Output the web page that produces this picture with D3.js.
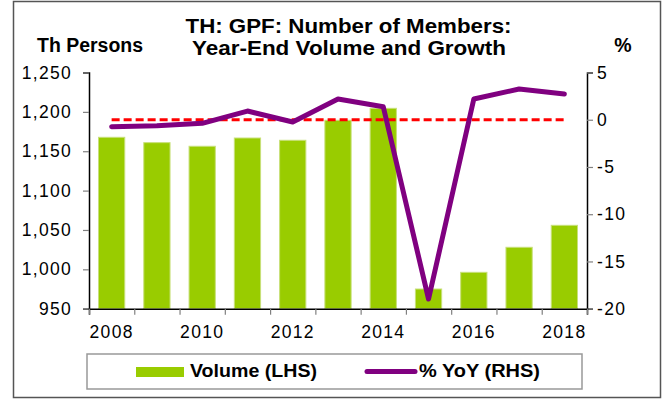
<!DOCTYPE html>
<html>
<head>
<meta charset="utf-8">
<script src="https://cdn.jsdelivr.net/npm/d3@7"></script>
<style>
  body { margin: 0; background: #fff; }
  svg text { font-family: "Liberation Sans", Arial, sans-serif; fill: #000; }
</style>
</head>
<body>
<div id="chart"></div>
<script>
// data
var years = ["2008", "2009", "2010", "2011", "2012", "2013", "2014", "2015", "2016", "2017", "2018"];
var volume = [1167.7, 1160.9, 1156.3, 1166.8, 1163.9, 1189.3, 1204.5, 975.0, 996.2, 1028.0, 1055.9];
var yoy = [-0.74, -0.63, -0.38, 0.92, -0.24, 2.19, 1.38, -18.98, 2.19, 3.25, 2.72];
var leftTicks = [950, 1000, 1050, 1100, 1150, 1200, 1250];
var rightTicks = [-20, -15, -10, -5, 0, 5];
var xLabels = ["2008", "2010", "2012", "2014", "2016", "2018"];

var W = 669, H = 401;
var plotL = 89, plotR = 587, plotT = 72.5, plotB = 308.7;

var svg = d3.select("#chart")
    .append("svg")
    .attr("width", W)
    .attr("height", H);

// outer frame
svg.append("rect")
    .attr("x", 13.5).attr("y", 1.5)
    .attr("width", 647).attr("height", 396)
    .attr("fill", "none")
    .attr("stroke", "#555")
    .attr("stroke-width", 1.5);

// scales
var x = d3.scaleBand()
    .domain(years)
    .range([plotL, plotR])
    .paddingInner(0.42)
    .paddingOuter(0.21);

var xIdx = d3.scaleLinear()
    .domain([0, years.length])
    .range([plotL, plotR]);

var yL = d3.scaleLinear()
    .domain([950, 1250])
    .range([plotB, plotT]);

var yR = d3.scaleLinear()
    .domain([-20, 5])
    .range([plotB, plotT]);

var cx = d => x(d) + x.bandwidth() / 2;

// bars
svg.append("g")
    .attr("class", "bars")
    .selectAll("rect")
    .data(volume)
    .enter()
    .append("rect")
        .attr("x", (d, i) => x(years[i]))
        .attr("y", d => yL(d))
        .attr("width", x.bandwidth())
        .attr("height", d => plotB - yL(d))
        .attr("fill", "#99cc00")
        .attr("stroke", "#c8e07a")
        .attr("stroke-width", 1);

// zero line (dashed red)
svg.append("line")
    .attr("x1", cx(years[0]))
    .attr("x2", cx(years[years.length - 1]))
    .attr("y1", yR(0))
    .attr("y2", yR(0))
    .attr("stroke", "#ff0000")
    .attr("stroke-width", 3)
    .attr("stroke-dasharray", "8,4");

// yoy line
svg.append("path")
    .datum(yoy)
    .attr("fill", "none")
    .attr("stroke", "#800080")
    .attr("stroke-width", 5)
    .attr("stroke-linejoin", "round")
    .attr("stroke-linecap", "round")
    .attr("d", d3.line()
        .x((d, i) => cx(years[i]))
        .y(d => yR(d)));

// AXES
function styleAxis(g) {
    g.select(".domain").attr("stroke", "#000").attr("stroke-width", 1.5);
    g.selectAll(".tick line").attr("stroke", "#808080").attr("stroke-width", 1.2);
    g.selectAll("text")
        .attr("font-size", 17.5)
        .attr("letter-spacing", "1.3px")
        .attr("fill", "#000")
        .attr("font-family", "Liberation Sans, Arial, sans-serif");
}

svg.append("g")
    .attr("transform", "translate(" + plotL + ",0)")
    .call(d3.axisLeft(yL)
        .tickValues(leftTicks)
        .tickSize(6)
        .tickPadding(11)
        .tickFormat(d3.format(",")))
    .call(styleAxis);

svg.append("g")
    .attr("transform", "translate(" + plotR + ",0)")
    .call(d3.axisRight(yR)
        .tickValues(rightTicks)
        .tickSize(6)
        .tickPadding(4)
        .tickFormat(d => String(d)))   // plain hyphen minus like the original
    .call(styleAxis);

// x tick marks between categories
svg.append("g")
    .attr("transform", "translate(0," + plotB + ")")
    .call(d3.axisBottom(xIdx)
        .ticks(years.length)
        .tickSize(6)
        .tickFormat(""))
    .call(styleAxis);

// x labels every other year
svg.append("g")
    .attr("transform", "translate(0," + plotB + ")")
    .call(d3.axisBottom(x)
        .tickValues(xLabels)
        .tickSize(0)
        .tickPadding(17))
    .call(styleAxis)
    .call(g => g.select(".domain").remove());

// titles (original is a bit stretched sideways)
function boldText(tx, ty, txt, len, anchor) {
    var t = svg.append("text")
        .attr("x", tx).attr("y", ty)
        .attr("font-weight", "bold")
        .attr("font-size", 19.5)
        .attr("text-anchor", anchor || "start")
        .text(txt);
    if (len) t.attr("textLength", len).attr("lengthAdjust", "spacingAndGlyphs");
    return t;
}
boldText(348.5, 33, "TH: GPF: Number of Members:", 326, "middle");
boldText(349, 55, "Year-End Volume and Growth", 314, "middle");
boldText(37, 52, "Th Persons", 106);
boldText(623, 52, "%", null, "middle");

// legend
var legend = svg.append("g").attr("class", "legend");
legend.append("rect")
    .attr("x", 87).attr("y", 354)
    .attr("width", 495).attr("height", 35)
    .attr("fill", "#fff")
    .attr("stroke", "#999")
    .attr("stroke-width", 1.5);
legend.append("rect")
    .attr("x", 136).attr("y", 367)
    .attr("width", 48).attr("height", 10)
    .attr("fill", "#99cc00");
legend.append("text")
    .attr("x", 190).attr("y", 377)
    .attr("font-weight", "bold")
    .attr("font-size", 17.5)
    .attr("textLength", 127)
    .attr("lengthAdjust", "spacingAndGlyphs")
    .text("Volume (LHS)");
legend.append("line")
    .attr("x1", 367).attr("x2", 415)
    .attr("y1", 371.5).attr("y2", 371.5)
    .attr("stroke", "#800080")
    .attr("stroke-width", 5)
    .attr("stroke-linecap", "round");
legend.append("text")
    .attr("x", 419).attr("y", 377)
    .attr("font-weight", "bold")
    .attr("font-size", 17.5)
    .attr("textLength", 121)
    .attr("lengthAdjust", "spacingAndGlyphs")
    .text("% YoY (RHS)");
</script>
</body>
</html>
